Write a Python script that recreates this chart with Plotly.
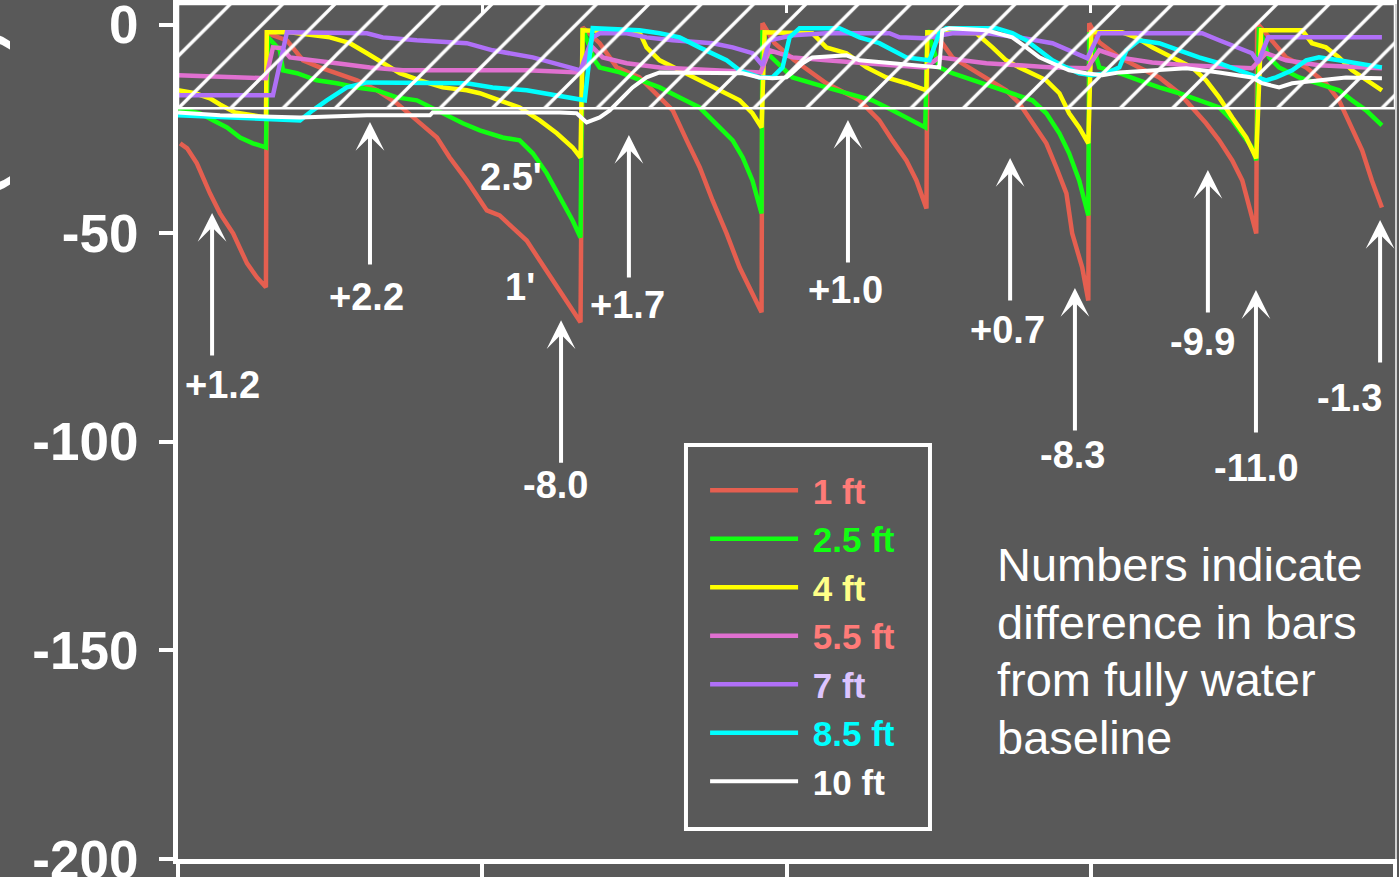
import plotly.graph_objects as go

# ---------------- data (day, value in bars) ----------------
S_1FT = [(0.007,-28.4),(0.030,-29.6),(0.062,-33.2),(0.105,-40.4),(0.138,-45.2),(0.181,-50.0),(0.227,-57.2),(0.259,-60.5),(0.289,-62.9),
         (0.292,-2.0),(0.358,-3.7),(0.411,-8.5),(0.466,-10.2),(0.522,-11.6),(0.588,-13.3),(0.654,-15.7),(0.719,-18.8),(0.785,-22.9),(0.851,-27.0),
         (0.893,-31.8),(0.949,-37.3),(1.015,-44.5),(1.057,-45.7),(1.100,-48.6),(1.146,-51.7),(1.189,-56.5),(1.232,-61.3),(1.264,-64.4),(1.297,-68.5),(1.323,-71.3),
         (1.330,-0.6),(1.386,-4.4),(1.442,-10.2),(1.517,-12.6),(1.583,-17.4),(1.626,-20.5),(1.672,-27.7),(1.715,-34.2),(1.757,-42.1),(1.803,-50.0),(1.846,-58.2),(1.888,-64.4),(1.918,-68.9),
         (1.921,0.4),(1.961,-4.4),(2.026,-8.5),(2.131,-14.0),(2.240,-18.1),(2.305,-22.9),(2.348,-27.7),(2.394,-32.5),(2.427,-37.3),(2.460,-44.0),
         (2.463,-2.0),(2.512,-4.4),(2.545,-7.8),(2.601,-10.2),(2.657,-12.6),(2.722,-15.7),(2.765,-18.8),(2.808,-23.6),(2.854,-28.4),(2.887,-34.2),(2.920,-40.4),(2.939,-50.0),(2.972,-58.2),(2.992,-66.1),
         (2.995,0.4),(3.028,-4.2),(3.094,-7.8),(3.159,-10.2),(3.225,-12.6),(3.291,-16.4),(3.333,-19.8),(3.379,-23.6),(3.422,-27.7),(3.465,-32.5),(3.498,-37.3),(3.521,-43.8),(3.544,-50.0),
         (3.547,0.4),(3.596,-3.7),(3.642,-7.8),(3.708,-10.2),(3.773,-14.0),(3.816,-18.1),(3.859,-24.6),(3.892,-30.1),(3.924,-37.3),(3.957,-43.8)]

S_2_5FT = [(0.0,-20.0),(0.072,-21.2),(0.115,-22.9),(0.161,-24.6),(0.204,-27.0),(0.246,-28.4),(0.289,-29.4),
           (0.296,-3.0),(0.335,-6.1),(0.345,-10.9),(0.391,-11.6),(0.456,-13.3),(0.522,-14.0),(0.588,-15.0),(0.654,-15.7),(0.719,-17.4),(0.785,-18.1),(0.851,-20.5),(0.936,-23.6),
           (0.992,-25.3),(1.067,-27.0),(1.123,-27.7),(1.166,-30.8),(1.212,-35.6),(1.255,-41.4),(1.297,-46.9),(1.323,-51.0),
           (1.330,-0.8),(1.369,-8.5),(1.386,-10.2),(1.452,-11.4),(1.517,-13.3),(1.583,-15.0),(1.649,-17.4),(1.714,-19.8),(1.780,-24.6),(1.823,-27.7),(1.856,-31.8),(1.888,-37.3),(1.918,-45.2),
           (1.921,-1.3),(1.944,-7.3),(2.020,-12.6),(2.131,-15.0),(2.197,-16.4),(2.282,-18.1),(2.348,-20.5),(2.394,-22.2),(2.456,-24.6),
           (2.463,-1.3),(2.502,-10.2),(2.545,-11.6),(2.611,-13.3),(2.677,-15.0),(2.742,-16.4),(2.808,-18.1),(2.854,-21.2),(2.897,-26.0),(2.929,-30.8),(2.962,-37.3),(2.992,-45.7),
           (2.995,-1.8),(3.028,-10.2),(3.094,-11.6),(3.159,-13.3),(3.225,-15.0),(3.291,-16.4),(3.356,-18.1),(3.422,-19.8),(3.465,-22.9),(3.498,-26.0),(3.530,-29.4),(3.544,-32.5),
           (3.553,-0.6),(3.586,-7.8),(3.619,-10.2),(3.685,-12.6),(3.750,-14.0),(3.816,-15.7),(3.859,-18.1),(3.905,-20.5),(3.957,-24.1)]

S_4FT = [(0.0,-15.7),(0.056,-16.4),(0.105,-17.6),(0.138,-19.1),(0.187,-21.0),(0.289,-22.2),
         (0.292,-1.8),(0.368,-1.8),(0.499,-3.0),(0.565,-4.4),(0.621,-6.8),(0.673,-9.2),(0.729,-11.6),(0.795,-13.3),(0.870,-15.0),(0.949,-15.7),
         (0.992,-16.4),(1.057,-18.1),(1.123,-19.8),(1.189,-22.9),(1.245,-26.0),(1.297,-29.4),(1.323,-31.8),
         (1.330,-1.3),(1.517,-1.8),(1.540,-5.4),(1.583,-8.5),(1.649,-10.9),(1.714,-13.3),(1.780,-15.7),(1.846,-18.1),(1.888,-21.2),(1.918,-24.6),
         (1.928,-1.8),(2.085,-2.0),(2.131,-5.4),(2.197,-6.8),(2.263,-10.2),(2.328,-12.6),(2.394,-14.0),(2.460,-15.7),
         (2.463,-1.8),(2.624,-2.0),(2.677,-5.4),(2.722,-8.5),(2.765,-10.2),(2.808,-11.6),(2.854,-13.3),(2.897,-16.4),(2.929,-21.2),(2.962,-24.6),(2.992,-28.4),
         (3.002,-1.8),(3.103,-1.8),(3.149,-3.0),(3.202,-5.4),(3.268,-7.8),(3.333,-10.2),(3.379,-13.3),(3.422,-17.4),(3.465,-22.2),(3.511,-27.0),(3.544,-32.0),
         (3.560,-1.3),(3.695,-1.3),(3.727,-4.4),(3.773,-5.4),(3.816,-7.8),(3.859,-10.9),(3.905,-13.3),(3.957,-15.7)]

S_5_5FT = [(0.0,-12.1),(0.171,-12.6),(0.289,-12.8),(0.312,-5.4),(0.342,-5.6),(0.368,-7.8),(0.433,-8.5),(0.522,-9.2),(0.631,-10.2),(0.739,-10.9),
           (0.926,-10.9),(1.146,-10.9),(1.320,-11.4),(1.363,-5.4),(1.396,-7.8),(1.475,-9.2),(1.583,-10.2),(1.803,-10.9),(1.915,-11.4),
           (1.944,-6.1),(2.020,-7.8),(2.131,-8.5),(2.240,-9.2),(2.348,-9.7),(2.456,-10.2),(2.502,-7.8),(2.657,-9.2),(2.874,-10.2),(2.989,-10.4),
           (3.028,-6.1),(3.094,-7.8),(3.202,-9.0),(3.314,-9.7),(3.530,-10.4),(3.576,-6.8),(3.642,-8.5),(3.750,-9.7),(3.957,-10.4)]

S_7FT = [(0.0,-16.9),(0.312,-16.9),(0.358,-1.8),(0.499,-1.8),(0.621,-2.0),(0.673,-3.0),(0.785,-3.7),(0.949,-4.4),(1.034,-6.1),(1.166,-7.8),
         (1.287,-10.2),(1.323,-10.9),(1.363,-3.0),(1.386,-2.0),(1.475,-2.0),(1.540,-3.0),(1.626,-3.7),(1.757,-4.4),(1.823,-5.4),(1.888,-6.8),
         (1.921,-9.7),(1.944,-3.7),(2.020,-2.5),(2.131,-2.0),(2.338,-2.0),(2.371,-3.0),(2.453,-3.2),(2.545,-2.0),(2.657,-2.0),(2.765,-3.0),
         (2.874,-4.4),(2.929,-6.1),(2.989,-8.0),(3.028,-2.0),(3.366,-2.0),(3.422,-3.7),(3.478,-5.4),(3.530,-6.8),(3.550,-9.0),(3.583,-3.0),(3.957,-3.0)]

S_8_5FT = [(0.0,-21.7),(0.204,-22.4),(0.401,-22.9),(0.443,-20.5),(0.489,-18.1),(0.555,-15.0),(0.621,-13.8),(0.949,-14.0),(1.034,-15.0),(1.146,-15.7),
           (1.232,-16.9),(1.287,-17.4),(1.337,-18.1),(1.363,-0.8),(1.517,-1.3),(1.583,-2.0),(1.649,-3.0),(1.714,-5.4),(1.757,-6.8),(1.803,-8.5),
           (1.846,-10.9),(1.911,-12.6),(1.954,-12.6),(1.987,-10.2),(2.010,-3.0),(2.043,-0.8),(2.174,-0.8),(2.240,-3.0),(2.305,-4.4),(2.348,-6.1),
           (2.394,-7.8),(2.470,-8.5),(2.502,-2.0),(2.525,-0.8),(2.690,-0.8),(2.742,-2.0),(2.788,-3.7),(2.831,-6.1),(2.874,-8.5),(2.920,-10.2),
           (2.962,-11.6),(3.005,-12.1),(3.051,-11.6),(3.094,-10.2),(3.117,-6.1),(3.159,-3.7),(3.225,-4.4),(3.291,-6.1),(3.356,-7.8),(3.422,-9.2),
           (3.488,-10.9),(3.576,-13.3),(3.609,-12.6),(3.662,-10.9),(3.708,-8.5),(3.750,-7.8),(3.816,-8.5),(3.957,-10.2)]

S_10FT = [(0.0,-21.0),(0.138,-21.7),(0.401,-22.2),(0.621,-21.7),(0.828,-21.7),(0.837,-21.0),(1.255,-21.0),(1.310,-21.2),(1.343,-23.4),(1.386,-22.2),
          (1.419,-20.5),(1.452,-18.1),(1.494,-15.0),(1.540,-12.6),(1.583,-11.4),(1.856,-11.6),(1.911,-12.6),(1.954,-12.8),(2.000,-12.6),(2.020,-11.4),
          (2.053,-9.2),(2.085,-7.8),(2.197,-7.3),(2.240,-8.5),(2.348,-9.2),(2.502,-10.2),(2.512,-1.3),(2.535,-0.8),(2.657,-1.3),(2.742,-3.0),
          (2.788,-5.4),(2.831,-7.8),(2.874,-9.2),(2.929,-10.9),(2.985,-11.6),(3.038,-12.1),(3.094,-11.4),(3.314,-10.4),(3.422,-11.4),(3.530,-12.6),
          (3.563,-14.0),(3.619,-15.0),(3.662,-14.0),(3.750,-13.3),(3.839,-12.6),(3.957,-12.8)]

SERIES = [S_1FT, S_2_5FT, S_4FT, S_5_5FT, S_7FT, S_8_5FT, S_10FT]
NAMES = ["1 ft", "2.5 ft", "4 ft", "5.5 ft", "7 ft", "8.5 ft", "10 ft"]

# hatched "wet" band (bars)
BAND_LOW = -20
BAND_HIGH = 5

# arrow annotations: label, arrow-head position (day, bars), label position (day, bars)
ARROW_TEXT = ["+1.2", "+2.2", "-8.0", "+1.7", "+1.0", "+0.7", "-8.3", "-9.9", "-11.0", "-1.3"]
ARROW_HEAD_X = [0.112, 0.631, 1.259, 1.482, 2.202, 2.735, 2.948, 3.385, 3.543, 3.951]
ARROW_HEAD_Y = [-45.1, -23.3, -70.8, -26.4, -22.8, -31.9, -63.1, -34.8, -63.6, -46.8]
ARROW_LABEL_X = [0.145, 0.621, 1.242, 1.479, 2.195, 2.728, 2.941, 3.366, 3.546, 3.852]
ARROW_LABEL_Y = [-86.3, -65.2, -110.3, -67.2, -63.6, -73.1, -103.1, -76.0, -106.2, -89.5]

DEPTH_TEXT = ["2.5'", "1'"]
DEPTH_X = [1.0945, 1.124]
DEPTH_Y = [-36.5, -62.8]

NOTE_LINES = ["Numbers indicate", "difference in bars", "from fully water", "baseline"]

Y_TICKS = [-200, -150, -100, -50, 0]
Y_TICK_TEXT = ["-200", "-150", "-100", "-50", "0"]
X_TICKS = [0, 1, 2, 3, 4]

# ---------------- styling ----------------
BG = "#595959"
FONT = "Liberation Sans, Arial, sans-serif"
LINE_COLORS = ["#e55f50", "#11ff11", "#ffff00", "#e070d0", "#b070f8", "#00ffff", "#ffffff"]
LABEL_COLORS = ["#ff7b78", "#11ff11", "#ffff88", "#ff7b78", "#dcc4ff", "#00ffff", "#ffffff"]
LINE_WIDTHS = [4.5, 4.5, 4.5, 4.5, 4.5, 4.5, 4]

fig = go.Figure()

for pts, name, lc, tc, lw in zip(SERIES, NAMES, LINE_COLORS, LABEL_COLORS, LINE_WIDTHS):
    xs = [p[0] for p in pts]
    ys = [p[1] for p in pts]
    fig.add_trace(go.Scatter(
        x=xs, y=ys, mode="lines", name=f"\u00a0<span style='color:{tc}'>{name}</span>",
        line=dict(color=lc, width=lw), hoverinfo="skip"))

# hatched band
fig.add_trace(go.Scatter(
    x=[X_TICKS[0], X_TICKS[-1], X_TICKS[-1], X_TICKS[0], X_TICKS[0]],
    y=[BAND_LOW, BAND_LOW, BAND_HIGH, BAND_HIGH, BAND_LOW],
    mode="lines", fill="toself", fillcolor="rgba(255,255,255,1)",
    fillpattern=dict(shape="/", fgcolor="#ffffff", fgopacity=1, bgcolor="rgba(0,0,0,0)",
                     size=37, solidity=0.09, fillmode="replace"),
    line=dict(color="white", width=2.5), showlegend=False, hoverinfo="skip"))

# invisible trace to carry the mirrored (top / right) frame axes
fig.add_trace(go.Scatter(x=[2], y=[-100], xaxis="x2", yaxis="y2", mode="markers",
                         marker=dict(opacity=0), showlegend=False, hoverinfo="skip"))

annotations = []
for t, hx, hy, lx, ly in zip(ARROW_TEXT, ARROW_HEAD_X, ARROW_HEAD_Y, ARROW_LABEL_X, ARROW_LABEL_Y):
    annotations.append(dict(x=hx, y=hy, xref="x", yref="y", text="", showarrow=True,
                            ax=0, ay=144, arrowhead=3, arrowsize=1.2, arrowwidth=4,
                            arrowcolor="white"))
    annotations.append(dict(x=lx, y=ly, xref="x", yref="y", text=t, showarrow=False,
                            font=dict(family=FONT, size=38, color="white", weight="bold")))
for t, x, y in zip(DEPTH_TEXT, DEPTH_X, DEPTH_Y):
    annotations.append(dict(x=x, y=y, xref="x", yref="y", text=t, showarrow=False,
                            font=dict(family=FONT, size=38, color="white", weight="bold")))
for i, line in enumerate(NOTE_LINES):
    annotations.append(dict(x=0.6713, y=0.3439 - i * 0.0671, xref="paper", yref="paper",
                            xanchor="left", yanchor="middle", text=line, showarrow=False,
                            font=dict(family=FONT, size=47, color="white")))
# y axis title (mostly outside the visible page on the left, as in the original)
annotations.append(dict(x=-0.1356, y=0.9719, xref="paper", yref="paper", xanchor="right",
                        yanchor="top", textangle=-90, text="Soil moisture tension (bars)",
                        showarrow=False, font=dict(family=FONT, size=60, color="white", weight="bold")))

# legend frame
shapes = [dict(type="rect", xref="paper", yref="paper", x0=0.4174, x1=0.6179, y0=0.0351, y1=0.4842,
               line=dict(color="white", width=4), fillcolor=BG, layer="above")]

fig.update_layout(
    width=1399, height=877,
    margin=dict(l=178, r=4, t=4, b=18, autoexpand=False),
    paper_bgcolor=BG, plot_bgcolor=BG,
    font=dict(family=FONT, color="white"),
    showlegend=True,
    legend=dict(x=0.4331, y=0.4655, xanchor="left", yanchor="top",
                bgcolor="rgba(0,0,0,0)", borderwidth=0,
                font=dict(family=FONT, size=35, weight="bold"),
                itemwidth=88, tracegroupgap=0),
    xaxis=dict(range=[X_TICKS[0], X_TICKS[-1]], tickvals=X_TICKS, showticklabels=False,
               ticks="outside", ticklen=14, tickwidth=4, tickcolor="white",
               showline=True, linewidth=5, linecolor="white", showgrid=False, zeroline=False),
    yaxis=dict(range=[-200, BAND_HIGH], tickvals=Y_TICKS, ticktext=Y_TICK_TEXT,
               ticks="outside", ticklen=14, tickwidth=4,
               tickcolor="white", ticklabelstandoff=10, ticklabeloverflow="allow",
               tickfont=dict(family=FONT, size=53, color="white", weight="bold"),
               showline=True, linewidth=5, linecolor="white", showgrid=False, zeroline=False),
    xaxis2=dict(overlaying="x", side="top", anchor="y2", range=[X_TICKS[0], X_TICKS[-1]],
                tickvals=X_TICKS, showticklabels=False, ticks="inside", ticklen=9, tickwidth=3,
                tickcolor="white", showline=True, linewidth=4, linecolor="white",
                showgrid=False, zeroline=False),
    yaxis2=dict(overlaying="y", side="right", anchor="x2", range=[-200, BAND_HIGH],
                showticklabels=False, ticks="", showline=True, linewidth=2, linecolor="#d0d0d0",
                showgrid=False, zeroline=False),
    shapes=shapes,
    annotations=annotations,
)

fig.write_html("out.html")
